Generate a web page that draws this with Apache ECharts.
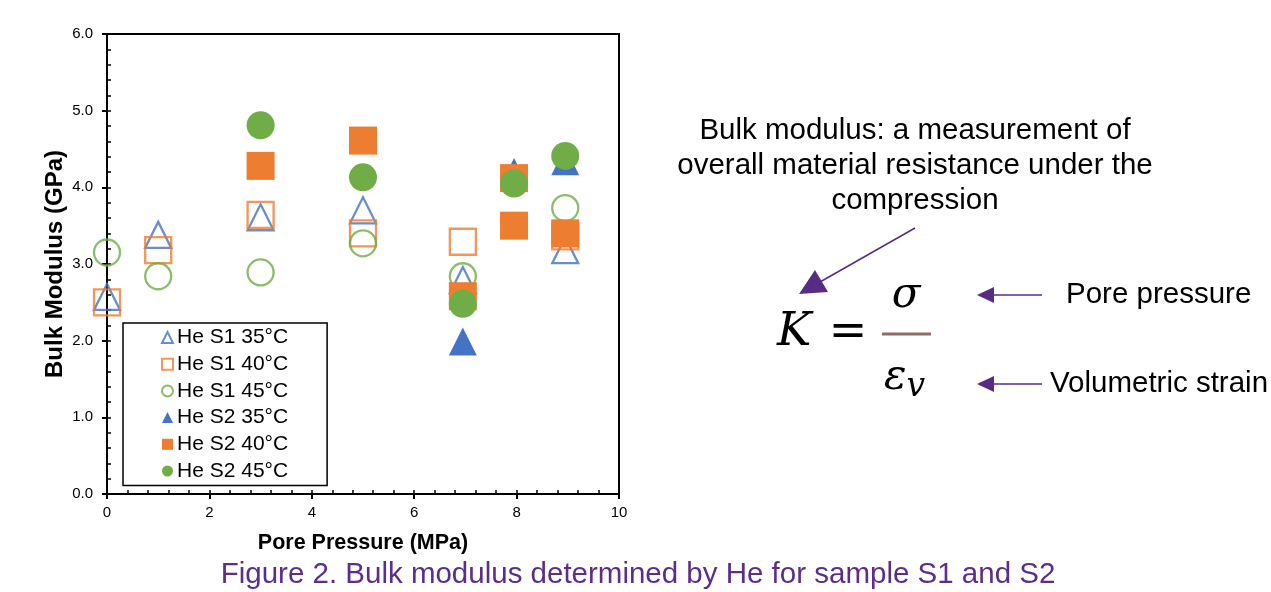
<!DOCTYPE html>
<html>
<head>
<meta charset="utf-8">
<script src="https://cdn.jsdelivr.net/npm/echarts@6/dist/echarts.min.js"></script>
<style>
  html, body { margin: 0; padding: 0; background: #fff; }
  #chart { width: 1271px; height: 592px; }
</style>
</head>
<body>
<div id="chart"></div>
<script>
// pore pressure (MPa) and bulk modulus (GPa)
const pressureS1 = [0, 1, 3, 5, 6.95, 8.95];
const s1At35 = [2.57, 3.38, 3.61, 3.70, 2.79, 3.18];
const s1At40 = [2.50, 3.18, 3.64, 3.40, 3.29, 3.36];
const s1At45 = [3.15, 2.84, 2.89, 3.27, 2.84, 3.73];

const pressureS2At35 = [6.95, 7.95, 8.95];
const s2At35 = [1.99, 4.20, 4.34];
const pressureS2At40 = [3, 5, 6.95, 7.95, 7.95, 8.95];
const s2At40 = [4.28, 4.61, 2.58, 4.12, 3.50, 3.40];
const pressureS2At45 = [3, 5, 6.95, 7.95, 8.95];
const s2At45 = [4.81, 4.13, 2.48, 4.05, 4.41];

const seriesNames = ['He S1 35°C', 'He S1 40°C', 'He S1 45°C', 'He S2 35°C', 'He S2 40°C', 'He S2 45°C'];

const blue = '#4472C4', orange = '#ED7D31', green = '#70AD47', purple = '#582C83';
const font = 'Liberation Sans, Arial, sans-serif';
const noteFont = '29.5px ' + font;

function pairs(xs, ys) {
    return xs.map((x, i) => [x, ys[i]]);
}

function openSeries(name, xs, ys, symbol, size, color) {
    return {
        name: name, type: 'scatter', xAxisIndex: 0, yAxisIndex: 0,
        symbol: symbol, symbolSize: size,
        itemStyle: { color: 'rgba(255,255,255,0)', borderColor: color, borderWidth: 2.3 },
        data: pairs(xs, ys)
    };
}

function filledSeries(name, xs, ys, symbol, size, color) {
    return {
        name: name, type: 'scatter', xAxisIndex: 0, yAxisIndex: 0,
        symbol: symbol, symbolSize: size,
        itemStyle: { color: color, opacity: 1 },
        data: pairs(xs, ys)
    };
}

const container = document.getElementById('chart');
const myChart = echarts.init(container, null, { renderer: 'canvas' });

const arrowStyle = { fill: purple };
const lineStyle = { stroke: purple, lineWidth: 1.5 };

var option = {
    animation: false,
    grid: {
        left: 107, right: 652, top: 34, bottom: 98,
        show: true, borderColor: '#000', borderWidth: 2, backgroundColor: 'transparent'
    },
    xAxis: [
        {
            type: 'value', min: 0, max: 10, interval: 2,
            name: 'Pore Pressure (MPa)', nameLocation: 'middle', nameGap: 38,
            nameTextStyle: { fontFamily: font, fontSize: 21.5, fontWeight: 'bold', color: '#000' },
            axisLine: { show: true, lineStyle: { color: '#000', width: 2 } },
            axisTick: { show: true, inside: false, length: 5, lineStyle: { color: '#000', width: 2 } },
            axisLabel: { fontFamily: font, fontSize: 15, color: '#000', margin: 11 },
            splitLine: { show: false }
        },
        {
            type: 'value', min: 0, max: 10, interval: 0.4, position: 'bottom',
            axisLine: { show: false },
            axisTick: { show: true, inside: true, length: 4, lineStyle: { color: '#000', width: 1.5 } },
            axisLabel: { show: false },
            splitLine: { show: false }
        }
    ],
    yAxis: [
        {
            type: 'value', min: 0, max: 6, interval: 1,
            name: 'Bulk Modulus (GPa)', nameLocation: 'middle', nameGap: 40,
            nameTextStyle: { fontFamily: font, fontSize: 24, fontWeight: 'bold', color: '#000' },
            axisLine: { show: true, lineStyle: { color: '#000', width: 2 } },
            axisTick: { show: true, inside: false, length: 5, lineStyle: { color: '#000', width: 2 } },
            axisLabel: { fontFamily: font, fontSize: 15, color: '#000', margin: 14,
                formatter: v => v.toFixed(1) },
            splitLine: { show: false }
        },
        {
            type: 'value', min: 0, max: 6, interval: 0.2, position: 'left',
            axisLine: { show: false },
            axisTick: { show: true, inside: true, length: 4, lineStyle: { color: '#000', width: 1.5 } },
            axisLabel: { show: false },
            splitLine: { show: false }
        }
    ],
    legend: {
        data: seriesNames,
        orient: 'vertical',
        left: 123, top: 323,
        padding: [4, 39, 4, 38],
        itemGap: 5.7,
        itemWidth: 11, itemHeight: 11,
        borderColor: '#000', borderWidth: 1.5, backgroundColor: '#fff',
        textStyle: { fontFamily: font, fontSize: 21, lineHeight: 21, color: '#000', padding: [0, 0, 0, -1] }
    },
    series: [
        openSeries(seriesNames[0], pressureS1, s1At35, 'triangle', 26, blue),
        openSeries(seriesNames[1], pressureS1, s1At40, 'rect', 26, orange),
        openSeries(seriesNames[2], pressureS1, s1At45, 'circle', 26, green),
        filledSeries(seriesNames[3], pressureS2At35, s2At35, 'triangle', 28, blue),
        filledSeries(seriesNames[4], pressureS2At40, s2At40, 'rect', 28, orange),
        filledSeries(seriesNames[5], pressureS2At45, s2At45, 'circle', 28, green)
    ],
    graphic: [
        { type: 'text', x: 915, y: 131, style: { text: 'Bulk modulus: a measurement of', font: noteFont, fill: '#000', align: 'center', verticalAlign: 'middle' } },
        { type: 'text', x: 915, y: 166, style: { text: 'overall material resistance under the', font: noteFont, fill: '#000', align: 'center', verticalAlign: 'middle' } },
        { type: 'text', x: 915, y: 201, style: { text: 'compression', font: noteFont, fill: '#000', align: 'center', verticalAlign: 'middle' } },
        { type: 'line', shape: { x1: 915, y1: 228, x2: 820, y2: 282 }, style: lineStyle },
        { type: 'polygon', shape: { points: [[799, 294], [815, 270], [828, 292]] }, style: arrowStyle },

        { type: 'text', x: 777, y: 333, style: { text: 'K', font: 'italic 46px "DejaVu Serif", serif', fill: '#000', align: 'left', verticalAlign: 'middle' } },
        { type: 'text', x: 848, y: 333, style: { text: '=', font: '46px "DejaVu Serif", serif', fill: '#000', align: 'center', verticalAlign: 'middle' } },
        { type: 'text', x: 906, y: 296, style: { text: 'σ', font: 'italic 42px "DejaVu Serif", serif', fill: '#000', align: 'center', verticalAlign: 'middle' } },
        { type: 'line', shape: { x1: 882, y1: 334, x2: 931, y2: 334 }, style: { stroke: '#8B6E6A', lineWidth: 3 } },
        { type: 'text', x: 884, y: 378, style: {
            text: '{e|ε}{s|v}', align: 'left', verticalAlign: 'middle',
            rich: {
                e: { font: 'italic 42px "DejaVu Serif", serif', fill: '#000', verticalAlign: 'middle' },
                s: { font: 'italic 33px "DejaVu Serif", serif', fill: '#000', padding: [18, 0, 0, 0] }
            } } },

        { type: 'line', shape: { x1: 1042, y1: 295, x2: 992, y2: 295 }, style: lineStyle },
        { type: 'polygon', shape: { points: [[977, 295], [994, 287], [994, 303]] }, style: arrowStyle },
        { type: 'text', x: 1066, y: 295, style: { text: 'Pore pressure', font: noteFont, fill: '#000', align: 'left', verticalAlign: 'middle' } },

        { type: 'line', shape: { x1: 1042, y1: 384, x2: 992, y2: 384 }, style: lineStyle },
        { type: 'polygon', shape: { points: [[977, 384], [994, 376], [994, 392]] }, style: arrowStyle },
        { type: 'text', x: 1050, y: 384, style: { text: 'Volumetric strain', font: noteFont, fill: '#000', align: 'left', verticalAlign: 'middle' } },

        { type: 'text', x: 638, y: 575, style: { text: 'Figure 2. Bulk modulus determined by He for sample S1 and S2', font: noteFont, fill: '#5B2D8C', align: 'center', verticalAlign: 'middle' } }
    ]
};

if (option && typeof option === 'object') {
    myChart.setOption(option);
}

window.addEventListener('resize', myChart.resize);
</script>
</body>
</html>
